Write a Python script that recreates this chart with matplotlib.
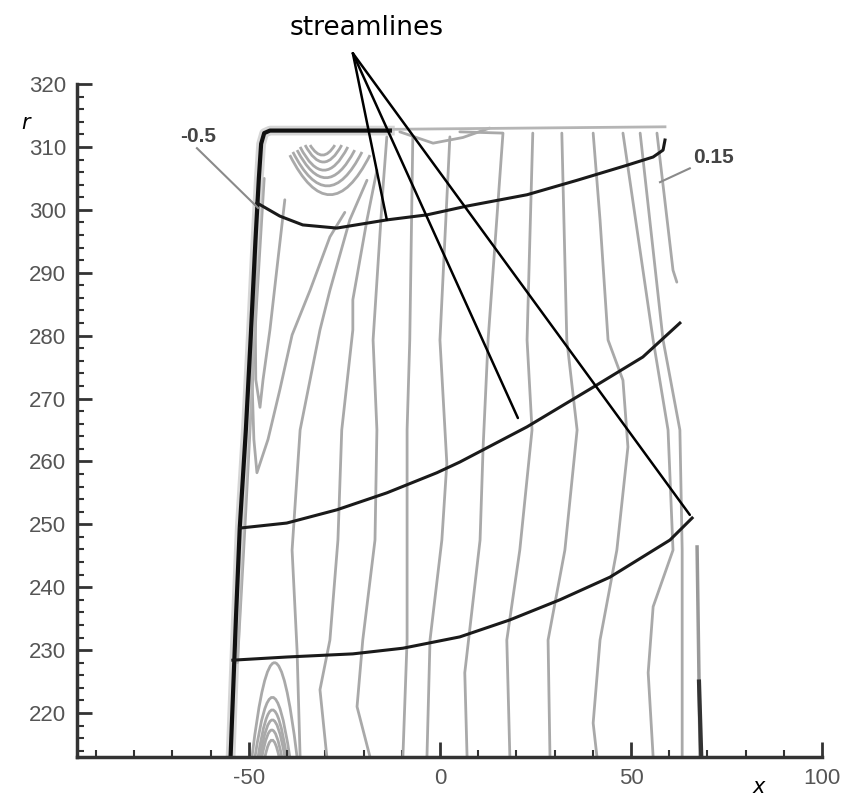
import matplotlib.pyplot as plt
from matplotlib.path import Path
from matplotlib.patches import PathPatch

plt.rcParams["axes.unicode_minus"] = False

# streamlines (x, r)
s_top_x = [-47.9, -41.9, -35.9, -27.0, -13.9, -3.4, 7.1, 22.8, 35.9, 49.0, 55.8, 58.4, 58.9]
s_top_r = [301.1, 299.0, 297.6, 297.1, 298.4, 299.2, 300.6, 302.4, 304.7, 307.1, 308.4, 309.5, 311.1]
s_mid_x = [-52.4, -40.1, -27.0, -13.9, -0.8, 5.2, 22.8, 40.1, 53.1, 62.8]
s_mid_r = [249.4, 250.2, 252.3, 255.0, 258.2, 259.9, 265.5, 271.8, 276.6, 282.0]
s_bot_x = [-54.2, -40.1, -22.8, -9.7, 5.2, 18.3, 31.4, 44.5, 60.2, 66.0]
s_bot_r = [228.4, 228.9, 229.4, 230.3, 232.1, 234.8, 238.0, 241.6, 247.5, 251.0]

# blade outline
wall_x = [-54.8, -53.4, -52.4, -50.8, -49.5, -48.3, -47.4, -46.8, -46.0, -44.5, -13.1]
wall_r = [213.0, 235.0, 249.4, 265.0, 280.1, 295.0, 305.0, 310.5, 312.2, 312.6, 312.6]
top_x = [-13.1, 58.9]
top_r = [312.8, 313.2]
te_x = [67.3, 68.1]
te_r = [246.4, 213.0]

# iso-lines of the pressure field, each as [x list, r list]
left_lines = [
    [[-19.1, -23.6, -28.8, -31.4, -36.6, -38.7, -37.4, -36.6],
     [304.7, 298.4, 287.2, 280.9, 265.0, 245.9, 230.0, 213.0]],
    [[-16.5, -19.1, -22.8, -22.8, -25.7, -26.7, -28.8, -31.4, -29.6],
     [306.3, 298.4, 285.7, 280.9, 265.0, 247.5, 231.6, 223.7, 213.0]],
    [[-13.9, -14.9, -17.5, -16.5, -17.0, -20.2, -21.7, -18.3],
     [311.6, 303.6, 279.3, 265.0, 247.5, 231.6, 221.0, 213.0]],
    [[-7.1, -7.9, -8.6, -8.6, -8.6, -9.7],
     [311.6, 279.3, 265.0, 247.5, 231.6, 213.0]],
    [[2.6, 0.0, 1.8, 0.5, -2.6, -3.4],
     [311.6, 279.3, 259.7, 247.5, 231.6, 213.0]],
]
right_lines = [
    [[5.2, 16.5, 12.6, 11.3, 10.5, 6.5, 7.1],
     [312.4, 312.2, 279.3, 262.3, 247.5, 226.4, 213.0]],
    [[24.3, 22.8, 24.1, 20.9, 17.5, 18.3],
     [312.2, 279.3, 265.0, 245.9, 231.6, 213.0]],
    [[31.9, 33.2, 35.9, 32.7, 28.3, 28.8],
     [312.2, 279.3, 265.0, 245.9, 231.6, 213.0]],
    [[40.1, 41.9, 44.0, 47.9, 49.2, 46.3, 41.9, 40.1, 41.1],
     [312.2, 298.4, 279.3, 272.9, 262.3, 245.9, 231.6, 218.4, 213.0]],
    [[47.9, 55.8, 59.7, 61.0, 55.8, 54.5, 55.8],
     [312.2, 279.3, 265.0, 245.9, 236.9, 226.4, 213.0]],
    [[52.4, 58.4, 62.8, 63.4, 63.4],
     [312.2, 279.3, 265.0, 245.9, 213.0]],
    [[56.8, 61.0, 62.0],
     [312.2, 290.4, 288.5]],
    [[-10.5, -1.8, 6.0, 13.0],
     [312.4, 310.6, 311.5, 313.0]],
]
wall_loops = [
    [[-40.6, -42.4, -44.5, -46.3, -47.1, -48.2, -48.4, -47.9],
     [301.6, 292.1, 280.9, 273.0, 268.6, 273.0, 285.7, 301.6]],
    [[-24.9, -28.8, -34.0, -38.7, -41.9, -45.0, -47.9, -48.7, -49.2, -49.2],
     [299.6, 295.7, 287.2, 280.1, 271.4, 263.5, 258.2, 263.5, 273.0, 280.9]],
    [[-53.0, -51.0, -48.0, -46.0],
     [228.0, 250.0, 285.0, 305.0]],
]
# vortex arcs near the tip: left x, right x, rim r, lowest r
arc_left = [-34.0, -35.3, -36.6, -37.4, -38.5, -39.3]
arc_right = [-27.5, -25.7, -24.1, -22.3, -20.4, -18.3]
arc_rim = [310.3, 310.3, 310.0, 309.5, 309.2, 308.7]
arc_low = [308.7, 307.6, 306.3, 305.1, 303.8, 302.4]
# separation loops at the hub: left foot, right foot, apex r
foot_left = [-49.2, -48.4, -47.6, -47.1, -46.6, -45.8]
foot_right = [-37.4, -39.3, -40.1, -40.6, -41.4, -42.1]
foot_top = [228.0, 222.5, 220.5, 218.9, 217.3, 215.7]

grey = "#a9a9a9"

fig = plt.figure(figsize=(8.45, 8.05), dpi=100)
ax = fig.add_axes([0.0911, 0.0596, 0.8817, 0.836])

for xs, rs in left_lines + right_lines + wall_loops:
    ax.plot(xs, rs, color=grey, lw=2, solid_capstyle="round")

# arcs drawn as quadratic curves through their lowest point
for xl, xr, rim, low in zip(arc_left, arc_right, arc_rim, arc_low):
    verts = [(xl, rim), ((xl + xr) / 2, 2 * low - rim), (xr, rim)]
    p = Path(verts, [Path.MOVETO, Path.CURVE3, Path.CURVE3])
    ax.add_patch(PathPatch(p, fill=False, edgecolor=grey, lw=2))
for xl, xr, top in zip(foot_left, foot_right, foot_top):
    verts = [(xl, 213.0), ((xl + xr) / 2, 2 * top - 213.0), (xr, 213.0)]
    p = Path(verts, [Path.MOVETO, Path.CURVE3, Path.CURVE3])
    ax.add_patch(PathPatch(p, fill=False, edgecolor=grey, lw=2))

# blade edges
ax.plot(top_x, top_r, color="#b5b5b5", lw=2)
ax.plot(wall_x, wall_r, color="#bbbbbb", lw=7, alpha=0.6)
ax.plot(wall_x, wall_r, color="#111111", lw=3)
ax.plot(te_x, te_r, color="#999999", lw=2.5)
ax.plot([67.8, 68.4], [225.0, 213.0], color="#333333", lw=3)

# streamlines
ax.plot(s_top_x, s_top_r, color="#1a1a1a", lw=2.2)
ax.plot(s_mid_x, s_mid_r, color="#1a1a1a", lw=2.2)
ax.plot(s_bot_x, s_bot_r, color="#1a1a1a", lw=2.2)

# level labels
ax.plot([-63.6, -47.6], [309.8, 300.3], color="#8a8a8a", lw=1.5)
ax.plot([57.6, 65.4], [304.4, 306.6], color="#8a8a8a", lw=1.5)
ax.text(-63.4, 311.6, "-0.5", fontsize=15, fontweight="bold", color="#444444",
        family="Liberation Sans", ha="center", va="center")
ax.text(71.7, 308.4, "0.15", fontsize=15, fontweight="bold", color="#444444",
        family="Liberation Sans", ha="center", va="center")

# pointer lines
origin = (-22.8, 324.9)
for tx, tr in [(-13.9, 298.4), (20.4, 266.9), (65.4, 251.5)]:
    ax.annotate("", xy=(tx, tr), xytext=origin, annotation_clip=False,
                arrowprops=dict(arrowstyle="-", color="black", lw=1.8,
                                shrinkA=0, shrinkB=0))
fig.text(0.434, 0.965, "streamlines", ha="center", va="center", fontsize=19)

ax.set_xlim(-95, 100)
ax.set_ylim(213, 320)
ax.set_xticks([-50, 0, 50, 100])
ax.set_xticks(range(-90, 100, 10), minor=True)
ax.set_yticks(range(220, 321, 10))
ax.set_yticks(range(214, 321, 2), minor=True)
for side in ["top", "right"]:
    ax.spines[side].set_visible(False)
for side in ["left", "bottom"]:
    ax.spines[side].set_linewidth(2.5)
    ax.spines[side].set_color("#333333")
ax.tick_params(which="major", direction="in", length=11, width=2, color="#333333",
               labelcolor="#555555", labelsize=16, pad=8)
ax.tick_params(which="minor", direction="in", length=5, width=1.5, color="#333333")
for lab in ax.get_xticklabels() + ax.get_yticklabels():
    lab.set_family("Liberation Sans")

fig.text(0.025, 0.84, "r", fontsize=15, style="italic")
fig.text(0.89, 0.015, "x", fontsize=15, style="italic")

fig.savefig("out.png", dpi=100)
